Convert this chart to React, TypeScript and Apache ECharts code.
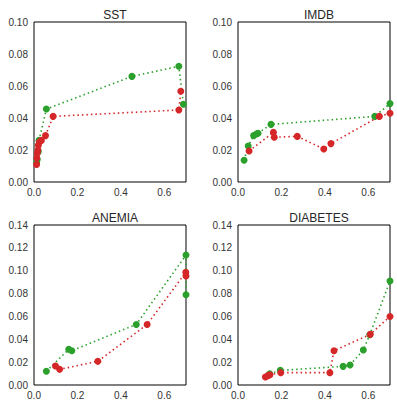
import React, { useEffect, useRef } from "react";
import * as echarts from "echarts";

const titles = ["SST", "IMDB", "ANEMIA", "DIABETES"];
const xTicks = [0.0, 0.2, 0.4, 0.6];

const sstGreen = [[0.012, 0.012], [0.015, 0.014], [0.02, 0.019], [0.023, 0.026], [0.057, 0.0456], [0.451, 0.066], [0.667, 0.0723], [0.688, 0.0486]];
const sstRed = [[0.012, 0.011], [0.013, 0.015], [0.015, 0.018], [0.018, 0.02], [0.02, 0.023], [0.025, 0.025], [0.034, 0.026], [0.053, 0.029], [0.088, 0.041], [0.667, 0.045], [0.676, 0.0567]];

const imdbGreen = [[0.028, 0.0136], [0.047, 0.0225], [0.072, 0.029], [0.085, 0.030], [0.092, 0.0305], [0.152, 0.036], [0.63, 0.041], [0.70, 0.049]];
const imdbRed = [[0.051, 0.0194], [0.163, 0.031], [0.167, 0.028], [0.273, 0.0285], [0.395, 0.0206], [0.428, 0.024], [0.651, 0.041], [0.70, 0.043]];

const anemiaGreen = [[0.057, 0.012], [0.16, 0.0312], [0.174, 0.030], [0.471, 0.053], [0.70, 0.1137], [0.70, 0.079]];
const anemiaRed = [[0.099, 0.0166], [0.118, 0.0137], [0.294, 0.0207], [0.521, 0.053], [0.699, 0.0986], [0.70, 0.0954]];

const diabetesGreen = [[0.146, 0.0099], [0.195, 0.0128], [0.484, 0.0163], [0.516, 0.0175], [0.577, 0.0306], [0.607, 0.044], [0.70, 0.091]];
const diabetesRed = [[0.126, 0.007], [0.138, 0.0082], [0.147, 0.009], [0.197, 0.0108], [0.423, 0.0108], [0.442, 0.030], [0.609, 0.0443], [0.70, 0.060]];

const yMax = [0.1, 0.1, 0.14, 0.14];
const yInterval = [0.02, 0.02, 0.02, 0.02];

const GREEN = "#2ca02c";
const RED = "#d62728";

export default function App() {
  const ref = useRef<HTMLDivElement>(null);
  useEffect(() => {
    if (!ref.current) return;
    const chart = echarts.init(ref.current, null, { renderer: "svg" });
    const grids = [
      { left: 34, top: 22, width: 152, height: 160 },
      { left: 238, top: 22, width: 152, height: 160 },
      { left: 34, top: 225, width: 152, height: 160 },
      { left: 238, top: 225, width: 152, height: 160 },
    ];
    const pairs = [
      [sstGreen, sstRed],
      [imdbGreen, imdbRed],
      [anemiaGreen, anemiaRed],
      [diabetesGreen, diabetesRed],
    ];
    const labelStyle = { color: "#333", fontSize: 10, fontFamily: "Liberation Sans, Arial, sans-serif" };
    const series: any[] = [];
    pairs.forEach((p, i) => {
      p.forEach((d, j) => {
        series.push({
          type: "line",
          xAxisIndex: i,
          yAxisIndex: i,
          data: d,
          symbol: "circle",
          symbolSize: 7,
          clip: false,
          lineStyle: { color: j === 0 ? GREEN : RED, width: 1.6, type: [1.5, 3] },
          itemStyle: { color: j === 0 ? GREEN : RED },
          z: j === 0 ? 2 : 3,
        });
      });
    });
    chart.setOption({
      animation: false,
      backgroundColor: "#fff",
      title: titles.map((t, i) => ({
        text: t,
        left: grids[i].left + grids[i].width / 2,
        top: grids[i].top - 18,
        textAlign: "center",
        textStyle: { fontSize: 12, fontWeight: "normal", color: "#262626", fontFamily: "Liberation Sans, Arial, sans-serif" },
      })),
      grid: grids.map((g) => ({ ...g, show: true, borderColor: "#000", borderWidth: 1, backgroundColor: "transparent" })),
      xAxis: grids.map((_, i) => ({
        type: "value",
        gridIndex: i,
        min: 0,
        max: 0.7,
        interval: 0.2,
        axisLine: { show: false },
        axisTick: { show: false },
        splitLine: { show: false },
        axisLabel: {
          ...labelStyle,
          margin: 5,
          showMaxLabel: false,
          formatter: (v: number) => (xTicks.some((t) => Math.abs(t - v) < 1e-9) ? v.toFixed(1) : ""),
        },
      })),
      yAxis: grids.map((_, i) => ({
        type: "value",
        gridIndex: i,
        min: 0,
        max: yMax[i],
        interval: yInterval[i],
        axisLine: { show: false },
        axisTick: { show: false },
        splitLine: { show: false },
        axisLabel: { ...labelStyle, margin: 6, formatter: (v: number) => v.toFixed(2) },
      })),
      series,
    });
    return () => chart.dispose();
  }, []);
  return <div ref={ref} style={{ position: "fixed", left: 0, top: 0, width: 397, height: 409 }} />;
}
